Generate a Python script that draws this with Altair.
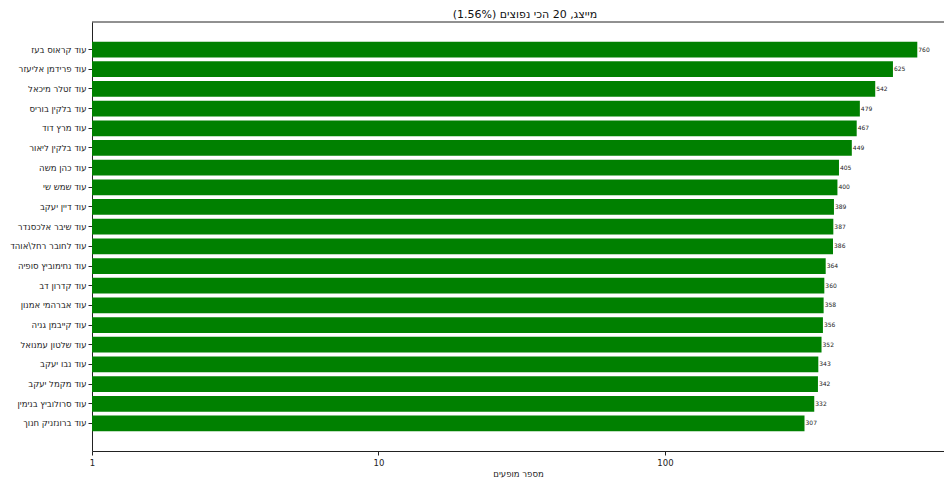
import altair as alt
import pandas as pd

# Names, words given in on-screen left-to-right order
names = [
    "עוד קראוס בעז",
    "עוד פרידמן אליעזר",
    "עוד זטלר מיכאל",
    "עוד בלקין בוריס",
    "עוד מרץ דוד",
    "עוד בלקין ליאור",
    "עוד כהן משה",
    "עוד שמש שי",
    "עוד דיין יעקב",
    "עוד שיבר אלכסנדר",
    "עוד לחובר רחל\\אוהד",
    "עוד נחימוביץ סופיה",
    "עוד קדרון דב",
    "עוד אברהמי אמנון",
    "עוד קייבמן גניה",
    "עוד שלטון עמנואל",
    "עוד נבו יעקב",
    "עוד מקמל יעקב",
    "עוד סרולוביץ בנימין",
    "עוד ברונזניק חנוך",
]
counts = [760, 625, 542, 479, 467, 449, 405, 400, 389, 387,
          386, 364, 360, 358, 356, 352, 343, 342, 332, 307]
x_ticks = [1, 10, 100]

title_text = "מייצג, 20 הכי נפוצים (1.56%)"
x_title = "מספר מופעים"

df = pd.DataFrame({"name": names, "count": counts})

FONT = "DejaVu Sans"
W, H = 852, 429

xscale = alt.Scale(type="log", domain=[1, 942], nice=False, clamp=False)
yscale = alt.Scale(paddingInner=0.2, paddingOuter=1.0)

base = alt.Chart(df)

bars = base.mark_bar(color="#008000").encode(
    x=alt.X("count:Q", scale=xscale,
            axis=alt.Axis(values=x_ticks, title=x_title, format="d",
                          grid=False, domainColor="#222", tickColor="#222",
                          tickSize=4, labelFont=FONT, labelFontSize=8.5,
                          labelColor="#222", labelPadding=3,
                          titleFont=FONT, titleFontSize=8.5, titleFontWeight="normal",
                          titleColor="#222", titlePadding=3, labelFlush=False)),
    x2=alt.datum(1),
    y=alt.Y("name:N", sort=names, scale=yscale,
            axis=alt.Axis(title=None, domainColor="#222", tickColor="#222",
                          tickSize=4, labelFont=FONT, labelFontSize=8.5,
                          labelColor="#222", labelPadding=2)),
)

texts = base.mark_text(align="left", baseline="middle", dx=1, font=FONT,
                       fontSize=6, color="#222").encode(
    x=alt.X("count:Q", scale=xscale),
    y=alt.Y("name:N", sort=names, scale=yscale),
    text=alt.Text("count:Q"),
)

top_line = alt.Chart(pd.DataFrame({"v": [0]})).mark_rule(color="#222", strokeWidth=1).encode(
    x=alt.value(0), x2=alt.value(W), y=alt.value(0)
)

chart = alt.layer(bars, texts, top_line).properties(
    width=W, height=H,
    title=alt.TitleParams(title_text, font=FONT, fontSize=11, fontWeight="normal",
                          color="#111", offset=2, dx=7),
    autosize=alt.AutoSizeParams(type="none"),
    padding={"left": 84, "top": 14, "right": 0, "bottom": 30},
).configure_view(stroke=None)

chart.save("out.html", embed_options={"renderer": "svg", "actions": False})
